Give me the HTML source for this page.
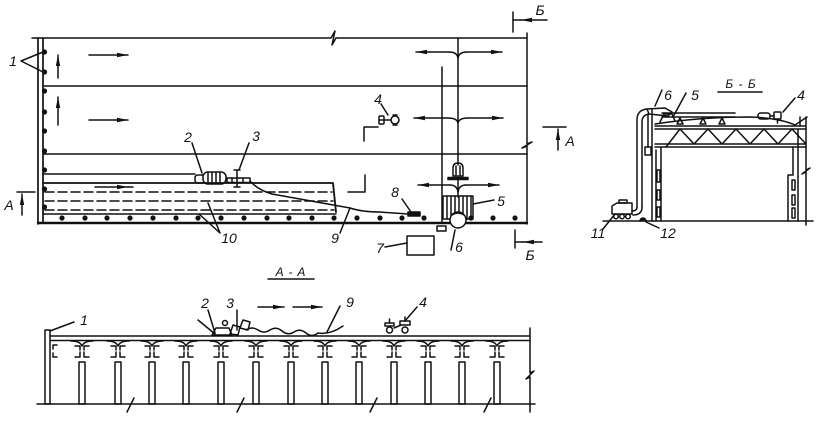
<!DOCTYPE html>
<html><head><meta charset="utf-8"><style>
html,body{margin:0;padding:0;background:#fff;}
svg{display:block;}
text{font-family:"Liberation Sans",sans-serif;font-style:italic;font-size:14px;fill:#111;text-anchor:middle;}
</style></head><body>
<svg width="828" height="422" viewBox="0 0 828 422" xmlns="http://www.w3.org/2000/svg">
<defs>
<marker id="ah" markerWidth="12" markerHeight="6" refX="11" refY="3" orient="auto" markerUnits="userSpaceOnUse"><path d="M0,0.8 L11,3 L0,5.2 z" fill="#111"/></marker>
<g id="col">
<path d="M-11 341 Q-2 341 0 346 Q2 341 11 341"/>
<path d="M-7 346 H-2 V350 M7 346 H2 V350 M-2 352 V357 H-7 M2 352 V357 H7"/>
<rect x="-3" y="362" width="6" height="42"/>
</g>
</defs>

<g stroke="#111" stroke-width="1.5" fill="none" stroke-linecap="round" stroke-linejoin="round">

<!-- ===== PLAN VIEW ===== -->
<path d="M32 38 H331 L335 31 L332 45 L336 38 H527"/>
<path d="M527 33 V144 L532 142 L522 148 L527 146 V224"/>
<path d="M38 38 V224 M43 38 V222" stroke-width="1.7"/>
<path d="M38 223 H527" stroke-width="2.4"/>
<path d="M43 86 H527 M43 154 H527 M43 174 H195"/>
<path d="M43 183 H333 L336 212" stroke-width="1.8"/>
<path d="M45 192 H332 M45 201 H333 M45 210 H334" stroke-dasharray="9 4"/>
<path d="M43 214 H336"/>

<g fill="#111" stroke="none">
<circle cx="44.5" cy="52" r="2.6"/><circle cx="44.5" cy="72" r="2.6"/><circle cx="44.5" cy="91" r="2.6"/>
<circle cx="44.5" cy="112" r="2.6"/><circle cx="44.5" cy="131" r="2.6"/><circle cx="44.5" cy="151" r="2.6"/>
<circle cx="44.5" cy="170" r="2.6"/><circle cx="44.5" cy="189" r="2.6"/><circle cx="44.5" cy="207" r="2.6"/>
<circle cx="62" cy="218" r="2.6"/><circle cx="85" cy="218" r="2.6"/><circle cx="107" cy="218" r="2.6"/>
<circle cx="130" cy="218" r="2.6"/><circle cx="153" cy="218" r="2.6"/><circle cx="176" cy="218" r="2.6"/>
<circle cx="198" cy="218" r="2.6"/><circle cx="221" cy="218" r="2.6"/><circle cx="244" cy="218" r="2.6"/>
<circle cx="267" cy="218" r="2.6"/><circle cx="289" cy="218" r="2.6"/><circle cx="312" cy="218" r="2.6"/>
<circle cx="334" cy="218" r="2.6"/><circle cx="357" cy="218" r="2.6"/><circle cx="380" cy="218" r="2.6"/>
<circle cx="402" cy="218" r="2.6"/><circle cx="424" cy="218" r="2.6"/>
<circle cx="471" cy="218" r="2.6"/><circle cx="493" cy="218" r="2.6"/><circle cx="515" cy="218" r="2.6"/>
</g>

<path d="M58 78 V55" marker-end="url(#ah)"/>
<path d="M58 125 V97" marker-end="url(#ah)"/>
<path d="M89 55 H128" marker-end="url(#ah)"/>
<path d="M89 120 H128" marker-end="url(#ah)"/>
<path d="M95 187 H128" marker-end="url(#ah)"/><path d="M128 187 H133"/>

<path d="M203 175 H198 Q195 175 195 178 V180 Q195 183 198 183 H203"/>
<rect x="203" y="172" width="23" height="12" rx="5"/>
<path d="M208 173 V183 M212 172.5 V183.5 M216 172.5 V183.5 M220 173 V183"/>
<rect x="227" y="178" width="23" height="4.5"/>
<path d="M232 178 V182 M243 178 V182 M237 170 V187 M234 170 H240 M234 187 H240"/>
<path d="M250 181 Q258 190 272 194 Q300 199 350 208 Q362 212 380 212 L408 214"/>

<rect x="379" y="116" width="5" height="8" rx="1"/>
<path d="M379 120 H384 M384 120 H391"/>
<circle cx="395" cy="120" r="4"/>
<path d="M393 115 H397 M393 125 H397"/>

<path d="M364 141 V127 H378"/>
<path d="M348 192 H365 V175"/>

<path d="M458 38 V165"/>
<path d="M449 52 Q457 52 458 58 M467 52 Q459 52 458 58"/>
<path d="M449 52 H416" marker-end="url(#ah)"/>
<path d="M467 52 H502" marker-end="url(#ah)"/>
<path d="M448 118 Q457 118 458 123 M468 118 Q459 118 458 123"/>
<path d="M448 118 H414" marker-end="url(#ah)"/>
<path d="M468 118 H503" marker-end="url(#ah)"/>
<path d="M442 67 V222"/>
<path d="M453 176 V168 Q453 163 458 163 Q463 163 463 168 V176 Z"/>
<path d="M456 166 V175 M460 166 V175"/>
<rect x="448" y="177.5" width="20" height="2" fill="#111"/>
<path d="M458 180 V197"/>
<path d="M450 185 Q457 185 458 192 M466 185 Q459 185 458 192"/>
<path d="M450 185 H418" marker-end="url(#ah)"/>
<path d="M466 185 H499" marker-end="url(#ah)"/>
<rect x="443" y="196" width="30" height="23"/>
<path d="M447 196 V219 M451 196 V219 M455 196 V219 M459 196 V219 M463 196 V219 M467 196 V219 M471 196 V219"/>
<circle cx="458" cy="220" r="8" fill="#fff"/>
<path d="M452 215 Q458 211 464 215"/>
<rect x="437" y="226" width="9" height="5"/>
<rect x="408" y="212" width="12" height="4" fill="#111"/>
<rect x="407" y="236" width="27" height="19"/>

<path d="M513 12 V32"/>
<path d="M547 20 H521" marker-end="url(#ah)"/><path d="M521 20 H513"/>
<path d="M515 230 V248"/>
<path d="M542 242 H523" marker-end="url(#ah)"/><path d="M523 242 H515"/>
<path d="M543 127 H566"/>
<path d="M558 150 V129" marker-end="url(#ah)"/>
<path d="M17 192 H35"/>
<path d="M22 215 V194" marker-end="url(#ah)"/>

<path d="M21 61 L43 52 M21 61 L43 72"/>
<path d="M192 143 L202 173"/>
<path d="M249 143 L239 170"/>
<path d="M220 233 L199 214 M220 233 L208 203"/>
<path d="M340 233 L350 208"/>
<path d="M402 199 L411 212"/>
<path d="M385 247 L407 243"/>
<path d="M473 204 L494 200"/>
<path d="M451 250 L455 230"/>
<path d="M381 104 L388 115"/>

<!-- ===== SECTION A-A ===== -->
<path d="M268 279 H314"/>
<path d="M37 404 H127 L131 404 L127 412 L134 398 L131 404 H237 L241 404 L237 412 L244 398 L241 404 H370 L374 404 L370 412 L377 398 L374 404 H484 L488 404 L484 412 L491 398 L488 404 H535"/>
<rect x="45" y="330" width="5" height="74"/>
<path d="M50 336 H530 M50 340.5 H530"/>
<path d="M530 328 V373 L534 371 L526 379 L530 377 V412"/>
<path d="M57 345 H53 V349 M53 353 V357 H57"/>
<use href="#col" x="82"/><use href="#col" x="118"/><use href="#col" x="152"/><use href="#col" x="186"/>
<use href="#col" x="221"/><use href="#col" x="256"/><use href="#col" x="291"/><use href="#col" x="325"/>
<use href="#col" x="359"/><use href="#col" x="394"/><use href="#col" x="428"/><use href="#col" x="462"/>
<use href="#col" x="497"/>
<path d="M198 320 L215 334"/>
<path d="M212 335 L216 328 L229 328 L232 335 Z"/>
<circle cx="225" cy="323" r="2.5"/>
<path d="M230 334 L233 325 L240 327 L238 335 Z M240 328 L243 320 L250 322 L248 330 Z"/>
<path d="M246 330 Q252 326 258 330 T270 330 T282 331 T294 332 T306 333 T318 333 Q330 335 343 326"/>
<path d="M258 307 H284" marker-end="url(#ah)"/>
<path d="M293 307 H322" marker-end="url(#ah)"/>
<rect x="385" y="323" width="9" height="3"/>
<circle cx="389.5" cy="330" r="3"/>
<path d="M389.5 319 V323 M394 328 L401 325"/>
<rect x="400" y="321" width="10" height="4"/>
<circle cx="405" cy="330" r="3"/>
<path d="M405 317 V321"/>
<path d="M74 322 L50 331"/>
<path d="M208 310 L215 333"/>
<path d="M237 310 L237 330"/>
<path d="M340 306 L327 332"/>
<path d="M417 307 L405 321"/>

<!-- ===== SECTION B-B ===== -->
<path d="M718 92 H762"/>
<path d="M603 221 H813"/>
<path d="M652 110 V221 M656 150 V221 M661 147 V221"/>
<rect x="657" y="170" width="3" height="12"/>
<rect x="657" y="190" width="3" height="10"/>
<rect x="657" y="207" width="3" height="10"/>
<path d="M655 126 H806 M655 129 H806 M655 144 H806 M655 147 H806"/>
<path d="M666 147 L680 129 L694 144 L708 129 L722 144 L736 129 L750 144 L764 129 L778 144 L792 129 L806 144"/>
<path d="M655 124 Q700 117 750 117 Q780 118 795 125 L807 117"/>
<path d="M662 113 H735 M662 117 H735"/>
<path d="M677 124 L680 118 L683 124 Z M700 124 L703 118 L706 124 Z M719 124 L722 118 L725 124 Z"/>
<path d="M660 122 L664 114 L672 114 L675 121"/>
<path d="M793 147 V175 H788 V221 M798 130 V221 M800 117 V126"/>
<rect x="792" y="180" width="3" height="10"/>
<rect x="792" y="195" width="3" height="10"/>
<rect x="792" y="208" width="3" height="10"/>
<path d="M806 117 V170 L810 168 L802 174 L806 172 V225"/>
<path d="M637 207 V120 Q637 110 647 109 M642 207 V122 Q642 115 649 114"/>
<path d="M637 207 Q637 211 632 211 M642 207 Q642 215 633 215"/>
<path d="M647 109 L665 108 L672 112 L668 116 L649 114 Z"/>
<path d="M648 114 V147"/>
<rect x="645" y="147" width="6" height="8"/>
<path d="M612 214 V206 L617 203 H632 V214 Z"/>
<rect x="619" y="200" width="8" height="3"/>
<circle cx="616" cy="216.5" r="2.3"/><circle cx="622" cy="216.5" r="2.3"/><circle cx="628" cy="216.5" r="2.3"/>
<path d="M640 221 A3 3 0 0 1 646 221" fill="#111"/>
<rect x="758" y="113" width="12" height="6" rx="2.5"/>
<path d="M770 116 H774"/>
<rect x="774" y="112" width="7" height="7" rx="1"/>
<path d="M777.5 119 V123"/>
<path d="M662 90 L655 106"/>
<path d="M686 93 L673 117"/>
<path d="M795 98 L783 112"/>
<path d="M603 229 L615 214"/>
<path d="M659 228 L646 222"/>
</g>

<text x="13" y="66">1</text>
<text x="188" y="142">2</text>
<text x="256" y="141">3</text>
<text x="229" y="243">10</text>
<text x="335" y="243">9</text>
<text x="395" y="197">8</text>
<text x="380" y="253">7</text>
<text x="501" y="206">5</text>
<text x="459" y="252">6</text>
<text x="378" y="104">4</text>
<text x="540" y="15">Б</text>
<text x="530" y="260">Б</text>
<text x="570" y="146">A</text>
<text x="9" y="210">A</text>

<text x="291" y="276" style="font-size:12px;letter-spacing:1px">A - A</text>
<text x="84" y="325">1</text>
<text x="205" y="308">2</text>
<text x="230" y="308">3</text>
<text x="350" y="307">9</text>
<text x="423" y="307">4</text>

<text x="741" y="88" style="font-size:12px;letter-spacing:1px">Б - Б</text>
<text x="668" y="100">6</text>
<text x="695" y="100">5</text>
<text x="801" y="100">4</text>
<text x="598" y="238">11</text>
<text x="668" y="238">12</text>
</svg>
</body></html>
